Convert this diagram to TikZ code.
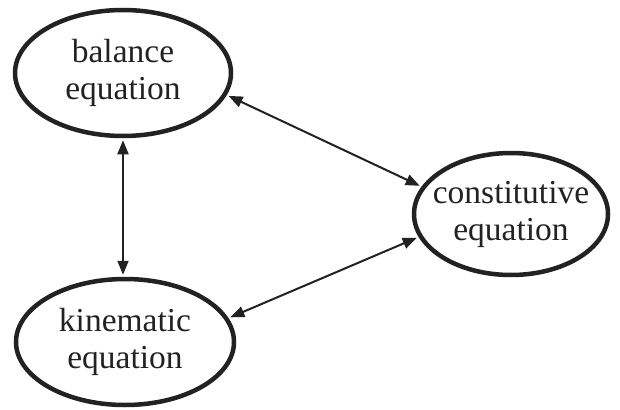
\documentclass[tikz,border=0pt]{standalone}
\usepackage{fontspec}
\setmainfont{Liberation Serif}
\usetikzlibrary{shapes.geometric,arrows.meta}
\definecolor{ink}{HTML}{222222}
\begin{document}
\begin{tikzpicture}[x=1pt,y=-1pt,
  eq/.style={ellipse,draw=ink,line width=4.5pt,inner sep=0pt},
  txt/.style={inner sep=0pt,text=ink,align=center,font=\fontsize{33.5}{37}\selectfont},
  link/.style={draw=ink,line width=2pt,{Triangle[length=14pt,width=11pt]}-{Triangle[length=14pt,width=11pt]},shorten <=2pt,shorten >=2pt}]
\useasboundingbox (0,0) rectangle (620,409);
\node[eq,minimum width=216pt,minimum height=126pt] (bal) at (123,73) {};
\node[txt] at (bal) {balance\\equation};
\node[eq,minimum width=218pt,minimum height=126pt] (kin) at (125,342) {};
\node[txt] at (kin) {kinematic\\equation};
\node[eq,minimum width=194pt,minimum height=122pt] (con) at (511,214) {};
\node[txt] at (con) {constitutive\\equation};
\draw[link] (bal.south) -- (bal.south |- kin.north);
\draw[link] (bal.-12) -- (con.163);
\draw[link] (kin.13) -- (con.-166);
\end{tikzpicture}
\end{document}
